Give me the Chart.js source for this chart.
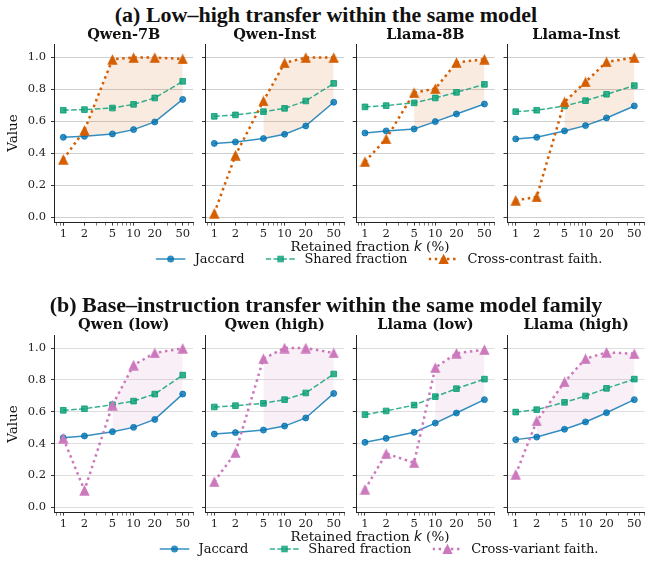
<!DOCTYPE html>
<html>
<head>
<meta charset="utf-8">
<script src="https://cdn.jsdelivr.net/npm/chart.js@4.4.1/dist/chart.umd.min.js"></script>
<style>
  body { margin: 0; background: #fff; }
  #fig { position: relative; width: 652px; height: 563px; overflow: hidden; font-family: 'DejaVu Serif', serif; color: #111; }
  #fig canvas { position: absolute; left: 0; top: 0; }
  .sup { position: absolute; left: 0; width: 652px; text-align: center; font: bold 22px 'Liberation Serif', serif; line-height: 26px; white-space: nowrap; }
  .ttl { position: absolute; text-align: center; font: bold 14.5px 'DejaVu Serif', serif; line-height: 18px; white-space: nowrap; }
  .ylab { position: absolute; font-size: 13.5px; line-height: 16px; transform: rotate(-90deg); transform-origin: center; white-space: nowrap; }
  .xlab { position: absolute; width: 300px; text-align: center; font-size: 13.5px; line-height: 16px; white-space: nowrap; }
  .xlab i { font-family: 'DejaVu Sans', sans-serif; }
  .legend { position: absolute; display: flex; align-items: center; transform: translateX(-50%); font-size: 13px; line-height: 16px; white-space: nowrap; }
  .legend .item { display: flex; align-items: center; margin-right: 21px; }
  .legend .item:last-child { margin-right: 0; }
  .legend svg { margin-right: 9px; }
</style>
</head>
<body>
<div id="fig"></div>
<script>
// ---- données ----
const kVals = [1, 2, 5, 10, 20, 50];
const xMajor = [1, 2, 5, 10, 20, 50];
const xMinor = [0.8, 0.9, 3, 4, 6, 7, 8, 9, 30, 40, 60, 70];
const yTicks = [0, 0.2, 0.4, 0.6, 0.8, 1.0];

const supTitleA = '(a) Low\u2013high transfer within the same model';
const titlesA = ['Qwen-7B', 'Qwen-Inst', 'Llama-8B', 'Llama-Inst'];
const jaccardA = [
  [0.500, 0.506, 0.521, 0.548, 0.596, 0.737],
  [0.462, 0.471, 0.492, 0.519, 0.571, 0.719],
  [0.527, 0.540, 0.552, 0.598, 0.646, 0.708],
  [0.490, 0.500, 0.540, 0.573, 0.621, 0.696]
];
const sharedA = [
  [0.669, 0.673, 0.683, 0.706, 0.746, 0.850],
  [0.631, 0.640, 0.660, 0.681, 0.727, 0.837],
  [0.690, 0.698, 0.715, 0.746, 0.781, 0.831],
  [0.660, 0.669, 0.696, 0.729, 0.769, 0.823]
];
const crossA = [
  [0.362, 0.544, 0.987, 0.998, 0.998, 0.990],
  [0.025, 0.388, 0.727, 0.965, 0.998, 0.998],
  [0.348, 0.490, 0.779, 0.804, 0.967, 0.988],
  [0.106, 0.127, 0.721, 0.846, 0.971, 0.998]
];

const supTitleB = '(b) Base\u2013instruction transfer within the same model family';
const titlesB = ['Qwen (low)', 'Qwen (high)', 'Llama (low)', 'Llama (high)'];
const jaccardB = [
  [0.437, 0.448, 0.475, 0.502, 0.552, 0.711],
  [0.460, 0.469, 0.485, 0.510, 0.561, 0.715],
  [0.408, 0.433, 0.471, 0.529, 0.592, 0.676],
  [0.425, 0.441, 0.490, 0.536, 0.594, 0.676]
];
const sharedB = [
  [0.609, 0.619, 0.644, 0.667, 0.711, 0.830],
  [0.630, 0.638, 0.653, 0.676, 0.718, 0.837],
  [0.582, 0.605, 0.642, 0.695, 0.745, 0.805],
  [0.598, 0.613, 0.659, 0.699, 0.747, 0.805]
];
const crossB = [
  [0.433, 0.107, 0.642, 0.893, 0.969, 0.998],
  [0.161, 0.343, 0.933, 1.000, 1.000, 0.969],
  [0.113, 0.337, 0.280, 0.877, 0.967, 0.990],
  [0.207, 0.542, 0.787, 0.933, 0.973, 0.964]
];

const legendLabels = ['Jaccard', 'Shared fraction'];
const crossLabelA = 'Cross-contrast faith.';
const crossLabelB = 'Cross-variant faith.';

// ---- mise en page / styles ----
const W = 652, H = 563;
const AX_LEFT = [54.5, 205.5, 356.2, 507];
const AX_W = 138.5;
const Y_W = 40, X_H = 30;
const X_MIN = 0.75, X_MAX = 70, Y_MIN = -0.03, Y_MAX = 1.08;

const C_JAC = 'rgba(1,115,178,0.8)';
const C_SHR = 'rgba(2,158,115,0.8)';
const C_CON = '#d55e00';
const C_VAR = '#cc78bc';

const ROWS = [
  { top: 44.5, h: 177.6, sup: supTitleA, titles: titlesA, jac: jaccardA, shr: sharedA, crs: crossA,
    color: C_CON, fill: 'rgba(213,94,0,0.12)', grid: '#cfcfcf', crossLabel: crossLabelA },
  { top: 335.3, h: 176.8, sup: supTitleB, titles: titlesB, jac: jaccardB, shr: sharedB, crs: crossB,
    color: C_VAR, fill: 'rgba(204,120,188,0.12)', grid: '#dedede', crossLabel: crossLabelB }
];

const fig = document.getElementById('fig');

function triangleMarker(color) {
  const c = document.createElement('canvas');
  c.width = 11; c.height = 11;
  const g = c.getContext('2d');
  g.fillStyle = color;
  g.beginPath();
  g.moveTo(5.5, 0.3);
  g.lineTo(0.3, 10.7);
  g.lineTo(10.7, 10.7);
  g.closePath();
  g.fill();
  return c;
}

function pts(vals) {
  return kVals.map((k, i) => ({ x: k, y: vals[i] }));
}

function addText(cls, html, css) {
  const d = document.createElement('div');
  d.className = cls;
  d.innerHTML = html;
  Object.assign(d.style, css);
  fig.appendChild(d);
  return d;
}

function makePanel(row, col) {
  const jac = row.jac[col], shr = row.shr[col], crs = row.crs[col];
  // zone remplie là où la fidélité croisée dépasse le Jaccard
  const mask = crs.map((c, i) => c >= jac[i]);
  const lower = jac.map((v, i) => mask[i] ? v : null);
  const upper = crs.map((v, i) => mask[i] ? v : null);

  const cv = document.createElement('canvas');
  cv.width = W; cv.height = H;
  fig.appendChild(cv);

  const left = AX_LEFT[col];
  const padding = {
    left: left - Y_W,
    top: row.top,
    right: W - (left + AX_W),
    bottom: H - (row.top + row.h) - X_H
  };
  const showY = col === 0;

  new Chart(cv.getContext('2d'), {
    type: 'line',
    data: {
      datasets: [
        { data: pts(jac), borderColor: C_JAC, borderWidth: 1.5, pointStyle: 'circle', pointRadius: 3,
          pointBorderWidth: 1, pointBackgroundColor: C_JAC, pointBorderColor: C_JAC, order: 3 },
        { data: pts(shr), borderColor: C_SHR, borderWidth: 1.5, borderDash: [5.5, 2.4], pointStyle: 'rect',
          pointRadius: 4, pointBorderWidth: 1, pointBackgroundColor: C_SHR, pointBorderColor: C_SHR, order: 2 },
        { data: pts(crs), borderColor: row.color, borderWidth: 2.5, borderDash: [2.5, 3.6],
          pointStyle: triangleMarker(row.color), pointRadius: 5, order: 1 },
        { data: pts(lower), borderWidth: 0, pointRadius: 0, borderColor: 'rgba(0,0,0,0)', order: 6 },
        { data: pts(upper), borderWidth: 0, pointRadius: 0, borderColor: 'rgba(0,0,0,0)',
          fill: { target: 3 }, backgroundColor: row.fill, order: 5 }
      ]
    },
    options: {
      responsive: false,
      animation: false,
      devicePixelRatio: 1,
      layout: { padding: padding },
      plugins: { legend: { display: false }, tooltip: { enabled: false }, filler: { propagate: false } },
      scales: {
        x: {
          type: 'logarithmic',
          bounds: 'data',
          min: X_MIN, max: X_MAX,
          afterBuildTicks: (s) => { s.ticks = xMajor.concat(xMinor).sort((a, b) => a - b).map(v => ({ value: v })); },
          afterFit: (s) => { s.height = X_H; },
          border: { display: true, color: '#222', width: 1 },
          grid: {
            drawOnChartArea: false, drawTicks: true, tickLength: 3.5, tickColor: '#222',
            tickWidth: (c) => xMajor.includes(c.tick && c.tick.value) ? 0.9 : 0.6
          },
          ticks: {
            autoSkip: false, maxRotation: 0, minRotation: 0, padding: 2, color: '#222',
            font: { family: 'DejaVu Serif', size: 11.5 },
            callback: (v) => xMajor.includes(v) ? String(v) : ''
          }
        },
        y: {
          type: 'linear',
          bounds: 'data',
          min: Y_MIN, max: Y_MAX,
          afterBuildTicks: (s) => { s.ticks = yTicks.map(v => ({ value: v })); },
          afterFit: (s) => { s.width = Y_W; },
          border: { display: true, color: '#222', width: 1 },
          grid: { color: row.grid, lineWidth: 1, drawTicks: true, tickLength: 3.5, tickColor: '#222', tickWidth: 0.9 },
          ticks: {
            padding: 5, color: '#222',
            font: { family: 'DejaVu Serif', size: 11.5 },
            callback: (v) => showY ? v.toFixed(1) : ''
          }
        }
      }
    }
  });

  addText('ttl', row.titles[col], { left: left + 'px', width: AX_W + 'px', top: (row.top - 20) + 'px' });
}

function legendHandle(kind, color) {
  let line = '', mark = '';
  if (kind === 0) {
    line = `<line x1="0" y1="6" x2="30" y2="6" stroke="${color}" stroke-width="1.5"/>`;
    mark = `<circle cx="15" cy="6" r="3.5" fill="${color}"/>`;
  } else if (kind === 1) {
    line = `<line x1="0" y1="6" x2="30" y2="6" stroke="${color}" stroke-width="1.5" stroke-dasharray="5.5 2.4"/>`;
    mark = `<rect x="11.7" y="2.7" width="6.6" height="6.6" fill="${color}"/>`;
  } else {
    line = `<line x1="0" y1="6" x2="30" y2="6" stroke="${color}" stroke-width="2.5" stroke-dasharray="2.5 3.6"/>`;
    mark = `<polygon points="15,0.8 9.8,11 20.2,11" fill="${color}"/>`;
  }
  return `<svg width="30" height="12" viewBox="0 0 30 12">${line}${mark}</svg>`;
}

ROWS.forEach((row) => {
  addText('sup', row.sup, { top: (row.top - 43) + 'px' });
  for (let c = 0; c < 4; c++) makePanel(row, c);

  addText('ylab', 'Value', { left: '-8px', width: '40px', textAlign: 'center', top: (row.top + row.h / 2 - 8) + 'px' });
  addText('xlab', 'Retained fraction <i>k</i> (%)', { left: (370 - 150) + 'px', top: (row.top + row.h + 16) + 'px' });

  const lg = addText('legend', '', { left: '379px', top: (row.top + row.h + 29) + 'px' });
  const labels = legendLabels.concat([row.crossLabel]);
  const colors = [C_JAC, C_SHR, row.color];
  lg.innerHTML = labels.map((t, i) => `<div class="item">${legendHandle(i, colors[i])}<span>${t}</span></div>`).join('');
});
</script>
</body>
</html>
